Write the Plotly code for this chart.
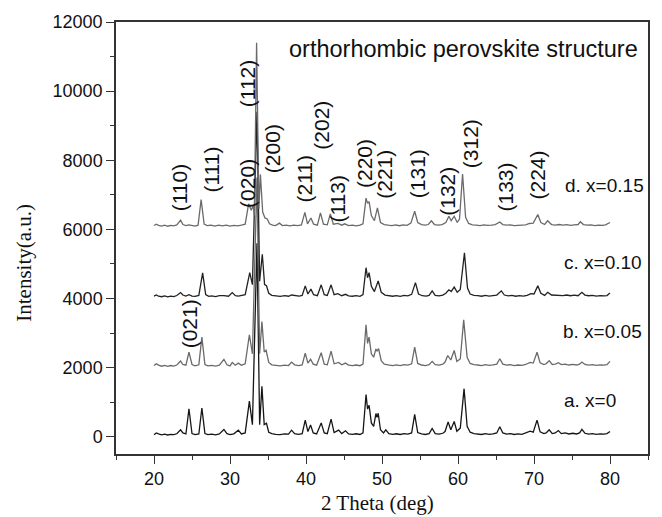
import plotly.graph_objects as go

# ---------------- data (2theta in deg, intensity in a.u.) ----------------
pattern_a = [(20.0, 60), (20.3, 110), (20.6, 80), (21.0, 55), (21.4, 75), (21.8, 50), (22.2, 70), (22.6, 60),
             (23.0, 85), (23.5, 200), (23.8, 110), (24.2, 80), (24.6, 810), (25.0, 90), (25.4, 60), (25.9, 80),
             (26.3, 830), (26.7, 90), (27.1, 60), (27.6, 75), (28.1, 55), (28.6, 80), (29.2, 210), (29.6, 90),
             (30.0, 60), (30.5, 85), (31.1, 190), (31.5, 80), (32.0, 110), (32.55, 1030), (32.95, 350),
             (33.55, 5600), (33.9, 350), (34.2, 1460), (34.5, 350), (34.8, 390), (35.1, 130), (35.5, 90),
             (36.0, 70), (36.6, 60), (37.2, 80), (37.7, 75), (38.1, 190), (38.5, 90), (39.0, 70), (39.5, 90),
             (39.9, 480), (40.25, 150), (40.6, 340), (40.95, 110), (41.4, 80), (42.0, 400), (42.4, 110),
             (42.8, 90), (43.3, 510), (43.7, 120), (44.3, 190), (44.7, 90), (45.2, 170), (45.6, 80), (46.1, 70),
             (46.6, 85), (47.1, 65), (47.5, 110), (47.9, 1220), (48.1, 800), (48.3, 910), (48.6, 400),
             (48.9, 300), (49.2, 670), (49.35, 560), (49.5, 680), (49.8, 200), (50.2, 110), (50.5, 200),
             (50.9, 90), (51.4, 70), (51.9, 85), (52.4, 65), (52.9, 90), (53.4, 75), (53.9, 110), (54.3, 645),
             (54.7, 120), (55.2, 80), (55.7, 65), (56.2, 90), (56.6, 240), (57.0, 90), (57.5, 75), (58.0, 100),
             (58.3, 150), (58.7, 430), (59.05, 200), (59.5, 440), (59.85, 160), (60.3, 250), (60.8, 1390),
             (61.2, 300), (61.6, 130), (62.1, 90), (62.6, 80), (63.1, 65), (63.6, 90), (64.1, 70), (64.6, 85),
             (65.1, 110), (65.5, 290), (65.9, 110), (66.4, 75), (66.9, 90), (67.4, 65), (67.9, 80), (68.4, 70),
             (68.9, 110), (69.5, 160), (69.9, 130), (70.4, 480), (70.8, 140), (71.3, 90), (71.6, 110),
             (72.0, 200), (72.4, 90), (72.8, 110), (73.2, 180), (73.6, 90), (74.1, 110), (74.6, 80), (75.1, 100),
             (75.6, 80), (76.0, 110), (76.3, 210), (76.7, 100), (77.2, 75), (77.7, 90), (78.2, 70), (78.7, 85),
             (79.2, 75), (79.6, 90), (80.0, 150)]

pattern_b = [(20.0, 2060), (20.3, 2110), (20.6, 2070), (21.0, 2040), (21.4, 2065), (21.8, 2035), (22.2, 2060),
             (22.6, 2045), (23.0, 2075), (23.5, 2190), (23.8, 2090), (24.2, 2070), (24.6, 2450), (25.0, 2090),
             (25.4, 2050), (25.9, 2080), (26.3, 2880), (26.7, 2090), (27.1, 2050), (27.6, 2065), (28.1, 2045),
             (28.6, 2070), (29.2, 2240), (29.6, 2080), (30.0, 2050), (30.3, 2150), (30.7, 2070), (31.1, 2130),
             (31.5, 2070), (32.0, 2110), (32.55, 2950), (32.95, 2400), (33.55, 7500), (33.9, 2400),
             (34.2, 3330), (34.5, 2450), (34.75, 2500), (35.1, 2150), (35.5, 2080), (36.0, 2060), (36.6, 2050),
             (37.2, 2070), (37.7, 2060), (38.1, 2160), (38.5, 2080), (39.0, 2060), (39.5, 2080), (39.9, 2420),
             (40.25, 2130), (40.6, 2240), (40.95, 2100), (41.4, 2070), (42.0, 2430), (42.4, 2100), (42.8, 2080),
             (43.3, 2475), (43.7, 2110), (44.3, 2150), (44.7, 2080), (45.2, 2130), (45.6, 2070), (46.1, 2060),
             (46.6, 2075), (47.1, 2055), (47.5, 2100), (47.9, 3235), (48.1, 2700), (48.3, 2880), (48.6, 2400),
             (48.9, 2300), (49.2, 2540), (49.35, 2480), (49.55, 2550), (49.9, 2200), (50.3, 2100), (50.8, 2080),
             (51.4, 2060), (51.9, 2080), (52.4, 2055), (52.9, 2085), (53.4, 2070), (53.9, 2110), (54.3, 2590),
             (54.7, 2120), (55.2, 2075), (55.7, 2060), (56.2, 2085), (56.6, 2180), (57.0, 2085), (57.5, 2070),
             (58.0, 2100), (58.3, 2160), (58.65, 2350), (59.05, 2220), (59.5, 2495), (59.85, 2180), (60.3, 2250),
             (60.75, 3380), (61.2, 2300), (61.6, 2120), (62.1, 2085), (62.6, 2075), (63.1, 2060), (63.6, 2085),
             (64.1, 2065), (64.6, 2080), (65.1, 2100), (65.5, 2255), (65.9, 2100), (66.4, 2070), (66.9, 2085),
             (67.4, 2060), (67.9, 2075), (68.4, 2065), (68.9, 2090), (69.5, 2150), (69.9, 2130), (70.4, 2445),
             (70.8, 2140), (71.3, 2085), (71.6, 2110), (72.0, 2200), (72.4, 2090), (72.8, 2100), (73.2, 2140),
             (73.6, 2085), (74.1, 2100), (74.6, 2075), (75.1, 2095), (75.6, 2075), (76.0, 2100), (76.3, 2160),
             (76.7, 2090), (77.2, 2070), (77.7, 2085), (78.2, 2065), (78.7, 2080), (79.2, 2070), (79.6, 2085),
             (80.0, 2180)]

pattern_c = [(20.0, 4070), (20.3, 4100), (20.6, 4065), (21.0, 4050), (21.4, 4075), (21.8, 4045), (22.2, 4070),
             (22.6, 4055), (23.0, 4085), (23.5, 4170), (23.8, 4100), (24.2, 4070), (24.6, 4110), (25.0, 4070),
             (25.4, 4060), (25.9, 4090), (26.4, 4740), (26.8, 4110), (27.2, 4060), (27.6, 4075), (28.1, 4055),
             (28.6, 4080), (29.2, 4080), (29.8, 4065), (30.3, 4170), (30.7, 4080), (31.1, 4070), (31.5, 4080),
             (32.0, 4110), (32.6, 4750), (32.95, 4400), (33.55, 9400), (33.9, 4500), (34.25, 5280),
             (34.55, 4400), (34.8, 4370), (35.1, 4150), (35.5, 4090), (36.0, 4075), (36.6, 4060), (37.2, 4080),
             (37.7, 4065), (38.1, 4100), (38.6, 4075), (39.1, 4070), (39.5, 4090), (39.9, 4365), (40.25, 4130),
             (40.65, 4270), (41.0, 4110), (41.5, 4080), (42.0, 4395), (42.4, 4110), (42.8, 4090), (43.3, 4395),
             (43.7, 4110), (44.2, 4140), (44.7, 4080), (45.2, 4120), (45.6, 4075), (46.1, 4065), (46.6, 4080),
             (47.1, 4060), (47.5, 4110), (47.9, 4890), (48.1, 4600), (48.3, 4750), (48.6, 4350), (49.0, 4200),
             (49.5, 4510), (49.9, 4180), (50.4, 4100), (50.9, 4080), (51.4, 4065), (51.9, 4085), (52.4, 4060),
             (52.9, 4090), (53.4, 4075), (53.9, 4120), (54.4, 4460), (54.8, 4130), (55.3, 4080), (55.8, 4070),
             (56.2, 4090), (56.6, 4220), (57.0, 4090), (57.5, 4075), (58.0, 4100), (58.4, 4150), (58.8, 4250),
             (59.1, 4200), (59.5, 4330), (59.9, 4180), (60.3, 4260), (60.85, 5320), (61.25, 4300), (61.6, 4130),
             (62.1, 4090), (62.6, 4080), (63.1, 4065), (63.6, 4090), (64.1, 4070), (64.6, 4085), (65.1, 4100),
             (65.7, 4220), (66.1, 4100), (66.6, 4075), (67.1, 4090), (67.6, 4065), (68.1, 4080), (68.6, 4070),
             (69.1, 4090), (69.6, 4140), (70.0, 4130), (70.5, 4365), (70.9, 4150), (71.4, 4090), (71.8, 4180),
             (72.3, 4100), (72.8, 4090), (73.3, 4100), (73.8, 4085), (74.3, 4100), (74.8, 4080), (75.3, 4095),
             (75.8, 4080), (76.3, 4180), (76.7, 4100), (77.2, 4080), (77.7, 4090), (78.2, 4070), (78.7, 4085),
             (79.2, 4075), (79.6, 4085), (80.0, 4160)]

pattern_d = [(20.0, 6110), (20.3, 6150), (20.6, 6115), (21.0, 6095), (21.4, 6120), (21.8, 6090), (22.2, 6115),
             (22.6, 6100), (23.0, 6130), (23.5, 6265), (23.8, 6140), (24.2, 6110), (24.6, 6130), (25.0, 6110),
             (25.4, 6095), (25.8, 6120), (26.2, 6860), (26.6, 6150), (27.0, 6110), (27.5, 6125), (28.0, 6095),
             (28.5, 6120), (29.0, 6100), (29.5, 6120), (30.0, 6095), (30.5, 6115), (31.0, 6100), (31.5, 6120),
             (32.0, 6150), (32.45, 6740), (32.8, 6550), (33.05, 6700), (33.2, 6400), (33.5, 11400),
             (33.8, 6600), (34.0, 7590), (34.3, 6500), (34.6, 6330), (34.9, 6300), (35.2, 6160), (35.6, 6120),
             (36.0, 6110), (36.5, 6180), (36.9, 6110), (37.4, 6125), (37.9, 6100), (38.4, 6120), (38.9, 6110),
             (39.4, 6130), (39.85, 6490), (40.2, 6160), (40.65, 6330), (41.0, 6150), (41.5, 6120), (41.9, 6475),
             (42.3, 6150), (42.8, 6130), (43.2, 6450), (43.6, 6150), (44.2, 6170), (44.7, 6120), (45.1, 6160),
             (45.6, 6110), (46.1, 6125), (46.6, 6100), (47.1, 6120), (47.5, 6160), (47.9, 6905), (48.1, 6750),
             (48.3, 6800), (48.6, 6400), (49.0, 6250), (49.4, 6620), (49.8, 6200), (50.3, 6140), (50.8, 6120),
             (51.3, 6110), (51.8, 6130), (52.3, 6105), (52.8, 6130), (53.3, 6115), (53.8, 6180), (54.3, 6525),
             (54.7, 6200), (55.2, 6140), (55.7, 6125), (56.1, 6140), (56.5, 6250), (56.9, 6140), (57.4, 6125),
             (57.9, 6140), (58.4, 6200), (58.8, 6380), (59.1, 6250), (59.5, 6380), (59.9, 6200), (60.2, 6300),
             (60.6, 7600), (61.0, 6350), (61.4, 6170), (61.9, 6130), (62.4, 6120), (62.9, 6110), (63.4, 6130),
             (63.9, 6115), (64.4, 6125), (64.9, 6140), (65.5, 6215), (65.9, 6140), (66.4, 6120), (66.9, 6130),
             (67.4, 6110), (67.9, 6120), (68.4, 6115), (68.9, 6130), (69.4, 6170), (69.9, 6180), (70.5, 6430),
             (70.9, 6200), (71.4, 6140), (71.8, 6250), (72.3, 6140), (72.8, 6125), (73.3, 6140), (73.8, 6120),
             (74.3, 6135), (74.8, 6115), (75.3, 6130), (75.8, 6140), (76.1, 6220), (76.5, 6140), (77.0, 6120),
             (77.5, 6130), (78.0, 6110), (78.5, 6125), (79.0, 6115), (79.4, 6130), (80.0, 6200)]

series_names = ["a. x=0", "b. x=0.05", "c. x=0.10", "d. x=0.15"]
series_colors = ["#161616", "#6a6a6a", "#222222", "#6a6a6a"]
series_label_pos = [(81.1, 1055), (84.5, 3040), (84.5, 5055), (84.7, 7270)]

# Miller index labels: (text, 2theta, intensity)
miller_labels = [("(110)", 23.4, 7214), ("(111)", 27.5, 7732), ("(020)", 32.3, 7330), ("(112)", 32.4, 10207),
                 ("(200)", 35.6, 8337), ("(211)", 39.75, 7445), ("(202)", 42.1, 9027), ("(113)", 44.1, 6869),
                 ("(220)", 47.7, 7905), ("(221)", 50.3, 7588), ("(131)", 54.7, 7617), ("(132)", 58.6, 7099),
                 ("(312)", 61.65, 8481), ("(133)", 66.2, 7214), ("(224)", 70.4, 7559), ("(021)", 24.7, 3272)]

x_ticks = [20, 30, 40, 50, 60, 70, 80]
y_ticks = [0, 2000, 4000, 6000, 8000, 10000, 12000]
y_tick_text = ["0", "2000", "4000", "6000", "8000", "10000", "12000"]

SANS = "Liberation Sans, Arial, sans-serif"
SERIF = "Liberation Serif, Times New Roman, serif"

fig = go.Figure()
for pat, name, col in zip([pattern_a, pattern_b, pattern_c, pattern_d], series_names, series_colors):
    fig.add_trace(go.Scatter(x=[p[0] for p in pat], y=[p[1] for p in pat], mode="lines",
                             line=dict(color=col, width=1.3), name=name, showlegend=False))

annotations = []
for txt, xx, yy in miller_labels:
    annotations.append(dict(text=txt, x=xx, y=yy, xref="x", yref="y", showarrow=False, textangle=-90,
                            font=dict(family=SANS, size=21, color="#111111"),
                            xanchor="center", yanchor="middle"))
for name, (xx, yy) in zip(series_names, series_label_pos):
    annotations.append(dict(text=name, x=xx, y=yy, xref="x", yref="y", showarrow=False,
                            font=dict(family=SANS, size=19, color="#111111"),
                            xanchor="right", yanchor="middle"))
annotations.append(dict(text="orthorhombic perovskite structure", x=0.3208, y=0.9378, xref="paper",
                        yref="paper", showarrow=False, xanchor="left", yanchor="middle",
                        font=dict(family=SANS, size=23.5, color="#111111")))
annotations.append(dict(text="Intensity(a.u.)", x=-0.1735, y=0.442, xref="paper", yref="paper",
                        showarrow=False, textangle=-90, xanchor="center", yanchor="middle",
                        font=dict(family=SERIF, size=21, color="#111111")))
annotations.append(dict(text="2 Theta (deg)", x=0.4916, y=-0.113, xref="paper", yref="paper",
                        showarrow=False, xanchor="center", yanchor="middle",
                        font=dict(family=SERIF, size=21, color="#111111")))

axis_common = dict(showline=True, mirror=True, linecolor="#333333", linewidth=1.5, showgrid=False,
                   zeroline=False, ticks="outside", tickcolor="#333333", tickwidth=1.3, ticklen=8,
                   tickfont=dict(family=SANS, size=18, color="#111111"))

fig.update_layout(
    width=662, height=517,
    margin=dict(l=116, r=13, t=20, b=63),
    paper_bgcolor="white", plot_bgcolor="white",
    xaxis=dict(range=[15, 85], tickvals=x_ticks,
               minor=dict(ticks="outside", ticklen=4, tickcolor="#333333", dtick=5, tick0=15), **axis_common),
    yaxis=dict(range=[-500, 12000], tickvals=y_ticks, ticktext=y_tick_text,
               minor=dict(ticks="outside", ticklen=4, tickcolor="#333333", dtick=1000, tick0=0), **axis_common),
    annotations=annotations,
)

fig.write_html("out.html")
